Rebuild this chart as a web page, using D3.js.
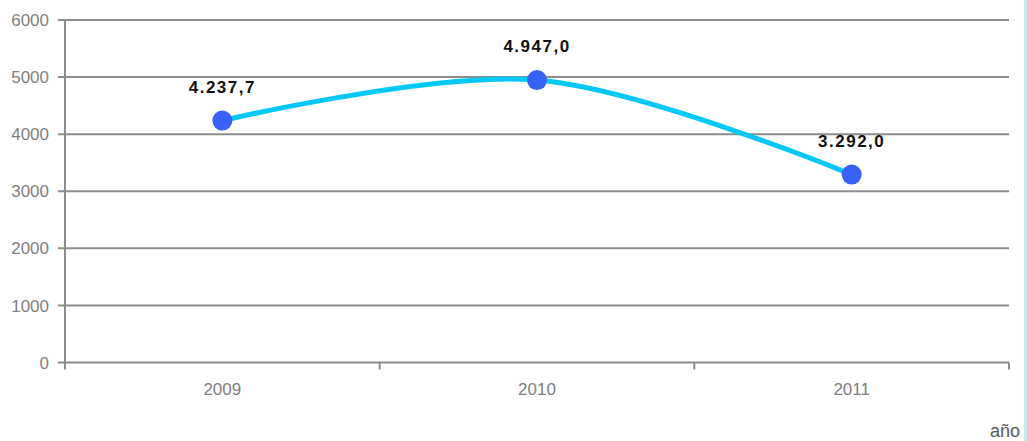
<!DOCTYPE html>
<html>
<head>
<meta charset="utf-8">
<script src="https://cdn.jsdelivr.net/npm/d3@7"></script>
<style>
  body { margin: 0; background: #fff; }
  svg { display: block; font-family: "Liberation Sans", Arial, sans-serif; }
</style>
</head>
<body>
<div id="chart"></div>
<script>
// data
const years = ['2009', '2010', '2011'];
const values = [4237.7, 4947.0, 3292.0];
const valueLabels = ['4.237,7', '4.947,0', '3.292,0'];
const yTicks = [0, 1000, 2000, 3000, 4000, 5000, 6000];

const width = 1027, height = 441;
const margin = {top: 20, right: 18, bottom: 78.5, left: 65};

const svg = d3.select('#chart').append('svg')
    .attr('width', width)
    .attr('height', height);

const x = d3.scaleBand()
    .domain(years)
    .range([margin.left, width - margin.right]);

const y = d3.scaleLinear()
    .domain([0, 6000])
    .range([height - margin.bottom, margin.top]);

const gridColor = '#8c8c8c';

// horizontal gridlines + left ticks
svg.append('g')
  .selectAll('line')
  .data(yTicks)
  .join('line')
    .attr('x1', margin.left - 7)
    .attr('x2', width - margin.right)
    .attr('y1', d => y(d))
    .attr('y2', d => y(d))
    .attr('stroke', gridColor)
    .attr('stroke-width', 2);

// y labels
svg.append('g')
  .selectAll('text')
  .data(yTicks)
  .join('text')
    .attr('x', 49)
    .attr('y', d => y(d))
    .attr('dy', '0.36em')
    .attr('text-anchor', 'end')
    .attr('fill', '#808080')
    .attr('font-size', 17)
    .text(d => d);

// left axis line
svg.append('line')
    .attr('x1', margin.left).attr('x2', margin.left)
    .attr('y1', y(6000) - 1).attr('y2', y(0) + 7)
    .attr('stroke', gridColor)
    .attr('stroke-width', 2);

// x ticks at band boundaries
const boundaries = years.map(d => x(d)).concat([x(years[years.length - 1]) + x.bandwidth()]);
svg.append('g')
  .selectAll('line')
  .data(boundaries.slice(1))
  .join('line')
    .attr('x1', d => d).attr('x2', d => d)
    .attr('y1', y(0)).attr('y2', y(0) + 7)
    .attr('stroke', gridColor)
    .attr('stroke-width', 2);

// x labels
svg.append('g')
  .selectAll('text')
  .data(years)
  .join('text')
    .attr('x', d => x(d) + x.bandwidth() / 2)
    .attr('y', 395)
    .attr('text-anchor', 'middle')
    .attr('fill', '#808080')
    .attr('font-size', 17)
    .text(d => d);

// smoothed line
const pts = years.map((d, i) => [x(d) + x.bandwidth() / 2, y(values[i])]);
const line = d3.line().curve(d3.curveCatmullRom.alpha(0.5));
svg.append('path')
    .attr('d', line(pts))
    .attr('fill', 'none')
    .attr('stroke', '#00c8f8')
    .attr('stroke-width', 5)
    .attr('stroke-linejoin', 'round');

// points
svg.append('g')
  .selectAll('circle')
  .data(pts)
  .join('circle')
    .attr('cx', d => d[0])
    .attr('cy', d => d[1])
    .attr('r', 10)
    .attr('fill', '#3862f6');

// value labels
svg.append('g')
  .selectAll('text')
  .data(pts)
  .join('text')
    .attr('x', d => d[0])
    .attr('y', d => d[1] - 28)
    .attr('text-anchor', 'middle')
    .attr('font-size', 17)
    .attr('font-weight', 'bold')
    .attr('letter-spacing', '1.5px')
    .attr('fill', '#111')
    .text((d, i) => valueLabels[i]);

// axis title
svg.append('text')
    .attr('x', 1020)
    .attr('y', 437)
    .attr('text-anchor', 'end')
    .attr('fill', '#5a5a5a')
    .attr('font-size', 18)
    .text('año');

// right edge strip
svg.append('rect')
    .attr('x', 1024)
    .attr('y', 0)
    .attr('width', 3)
    .attr('height', height)
    .attr('fill', '#b3eff0');
</script>
</body>
</html>
